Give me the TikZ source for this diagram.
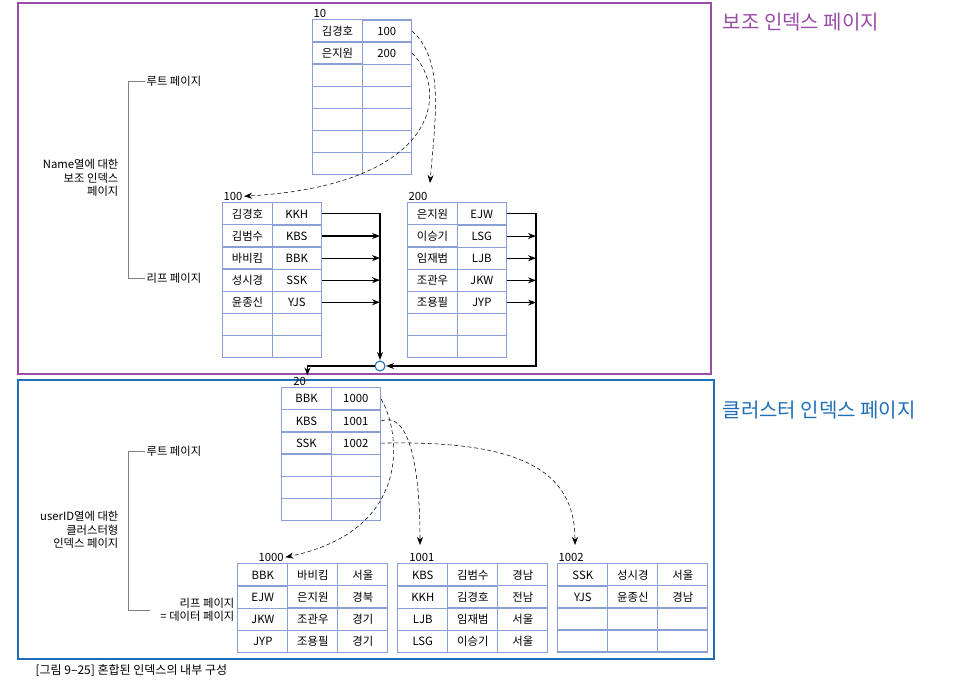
\documentclass[tikz,border=0pt]{standalone}
\usepackage{fontspec}
\setmainfont{Noto Sans CJK KR}
\usetikzlibrary{matrix,arrows.meta}
\definecolor{gridblue}{HTML}{8A9FD6}
\definecolor{boxpurple}{HTML}{9B4BA8}
\definecolor{boxblue}{HTML}{1F6FB8}
\tikzset{
  pg/.style={matrix of nodes, nodes in empty cells, anchor=north west,
    column sep=-0.8pt, row sep=-0.8pt, inner sep=0pt,
    nodes={draw=gridblue, line width=0.8pt, minimum height=16.5pt,
      minimum width=37pt, inner sep=0pt, font=\fontsize{8.5}{10}\selectfont}},
  lbl/.style={font=\fontsize{8.5}{10}\selectfont, inner sep=1pt},
  ptr/.style={-{Stealth[length=6pt]}, thick},
  dptr/.style={-{Stealth[length=6pt]}, densely dashed, thin},
}
\begin{document}
\begin{tikzpicture}[x=0.75pt,y=-0.75pt]
  \useasboundingbox (0,0) rectangle (962,695);
  \draw[boxpurple, line width=1.2pt] (18,3) rectangle (711,374);
  \draw[boxblue, line width=1.2pt] (18,380) rectangle (714,659);
  \node[anchor=west, text=boxpurple, font=\fontsize{15}{17}\selectfont] (t1) at (718,22) {보조 인덱스 페이지};
  \node[anchor=west, text=boxblue, font=\fontsize{15}{17}\selectfont] (t2) at (718,410) {클러스터 인덱스 페이지};

  % secondary index
  \matrix[pg] (r10) at (312,19) {김경호 & 100\\ 은지원 & 200\\ & \\ & \\ & \\ & \\ & \\};
  \node[lbl, anchor=south west] at (r10.north west) {10};
  \matrix[pg] (l100) at (222,202) {김경호 & KKH\\ 김범수 & KBS\\ 바비킴 & BBK\\ 성시경 & SSK\\ 윤종신 & YJS\\ & \\ & \\};
  \node[lbl, anchor=south west] (n100) at (l100.north west) {100};
  \matrix[pg] (l200) at (407,202) {은지원 & EJW\\ 이승기 & LSG\\ 임재범 & LJB\\ 조관우 & JKW\\ 조용필 & JYP\\ & \\ & \\};
  \node[lbl, anchor=south west] (n200) at (l200.north west) {200};

  \coordinate (hub) at (380,366);
  \coordinate (ja) at (380,0);
  \coordinate (jb) at (536,0);
  \draw[ptr] (l100-1-2.east) -| ([yshift=4.5pt]hub);
  \foreach \r in {2,...,5} \draw[ptr] (l100-\r-2.east) -- (l100-\r-2.east -| ja);
  \draw[ptr] (l200-1-2.east) -| (jb |- hub) -- ([xshift=4.5pt]hub);
  \foreach \r in {2,...,5} \draw[ptr] (l200-\r-2.east) -- (l200-\r-2.east -| jb);
  \draw[boxblue, thick, fill=white] (hub) circle (5);
  \draw[dptr] (r10-1-2.east) .. controls (445,60) and (435,120) .. (430,183);
  \draw[dptr] (r10-2-2.east) .. controls (450,90) and (440,185) .. (n100.east);

  % clustered index
  \matrix[pg] (r20) at (281,387) {BBK & 1000\\ KBS & 1001\\ SSK & 1002\\ & \\ & \\ & \\};
  \node[lbl, anchor=south west] (n20) at ([xshift=8]r20.north west) {20};
  \draw[ptr] ([xshift=-3.75pt]hub) -| (n20.north east);
  \matrix[pg, nodes={minimum width=37.5pt}] (l1000) at (237,563) {BBK & 바비킴 & 서울\\ EJW & 은지원 & 경북\\ JKW & 조관우 & 경기\\ JYP & 조용필 & 경기\\};
  \node[lbl, anchor=south west] (n1000) at ([xshift=15]l1000.north west) {1000};
  \matrix[pg, nodes={minimum width=37.5pt}] (l1001) at (397,563) {KBS & 김범수 & 경남\\ KKH & 김경호 & 전남\\ LJB & 임재범 & 서울\\ LSG & 이승기 & 서울\\};
  \node[lbl, anchor=south west] (n1001) at ([xshift=8]l1001.north west) {1001};
  \matrix[pg, nodes={minimum width=37.5pt}] (l1002) at (557,563) {SSK & 성시경 & 서울\\ YJS & 윤종신 & 경남\\ & & \\ & & \\};
  \node[lbl, anchor=south west] (n1002) at ([xshift=0]l1002.north west) {1002};
  \draw[dptr] (r20-1-2.east) .. controls (400,430) and (415,530) .. (n1000.east);
  \draw[dptr] (r20-2-2.east) .. controls (410,410) and (420,470) .. (420,545);
  \draw[dptr] (r20-3-2.east) .. controls (520,440) and (575,470) .. (575,545);

  % side brackets
  \node[lbl, anchor=west] (rt1) at (145,81) {루트 페이지};
  \node[lbl, anchor=west] (lf1) at (145,278) {리프 페이지};
  \draw[gray] (rt1.west) -- (128,81) -- (128,278) -- (lf1.west);
  \node[lbl, align=right, anchor=east] at (120,178) {Name열에 대한\\보조 인덱스\\페이지};
  \node[lbl, anchor=west] (rt2) at (145,451) {루트 페이지};
  \node[lbl, align=right, anchor=east] (lf2) at (236,610) {리프 페이지\\= 데이터 페이지};
  \draw[gray] (rt2.west) -- (128,451) -- (128,610) -- (150,610);
  \node[lbl, align=right, anchor=east] at (120,530) {userID열에 대한\\클러스터형\\인덱스 페이지};

  \node[lbl, anchor=west, font=\fontsize{9}{11}\selectfont] (cap) at (34,670) {[그림 9–25] 혼합된 인덱스의 내부 구성};
\end{tikzpicture}
\end{document}
